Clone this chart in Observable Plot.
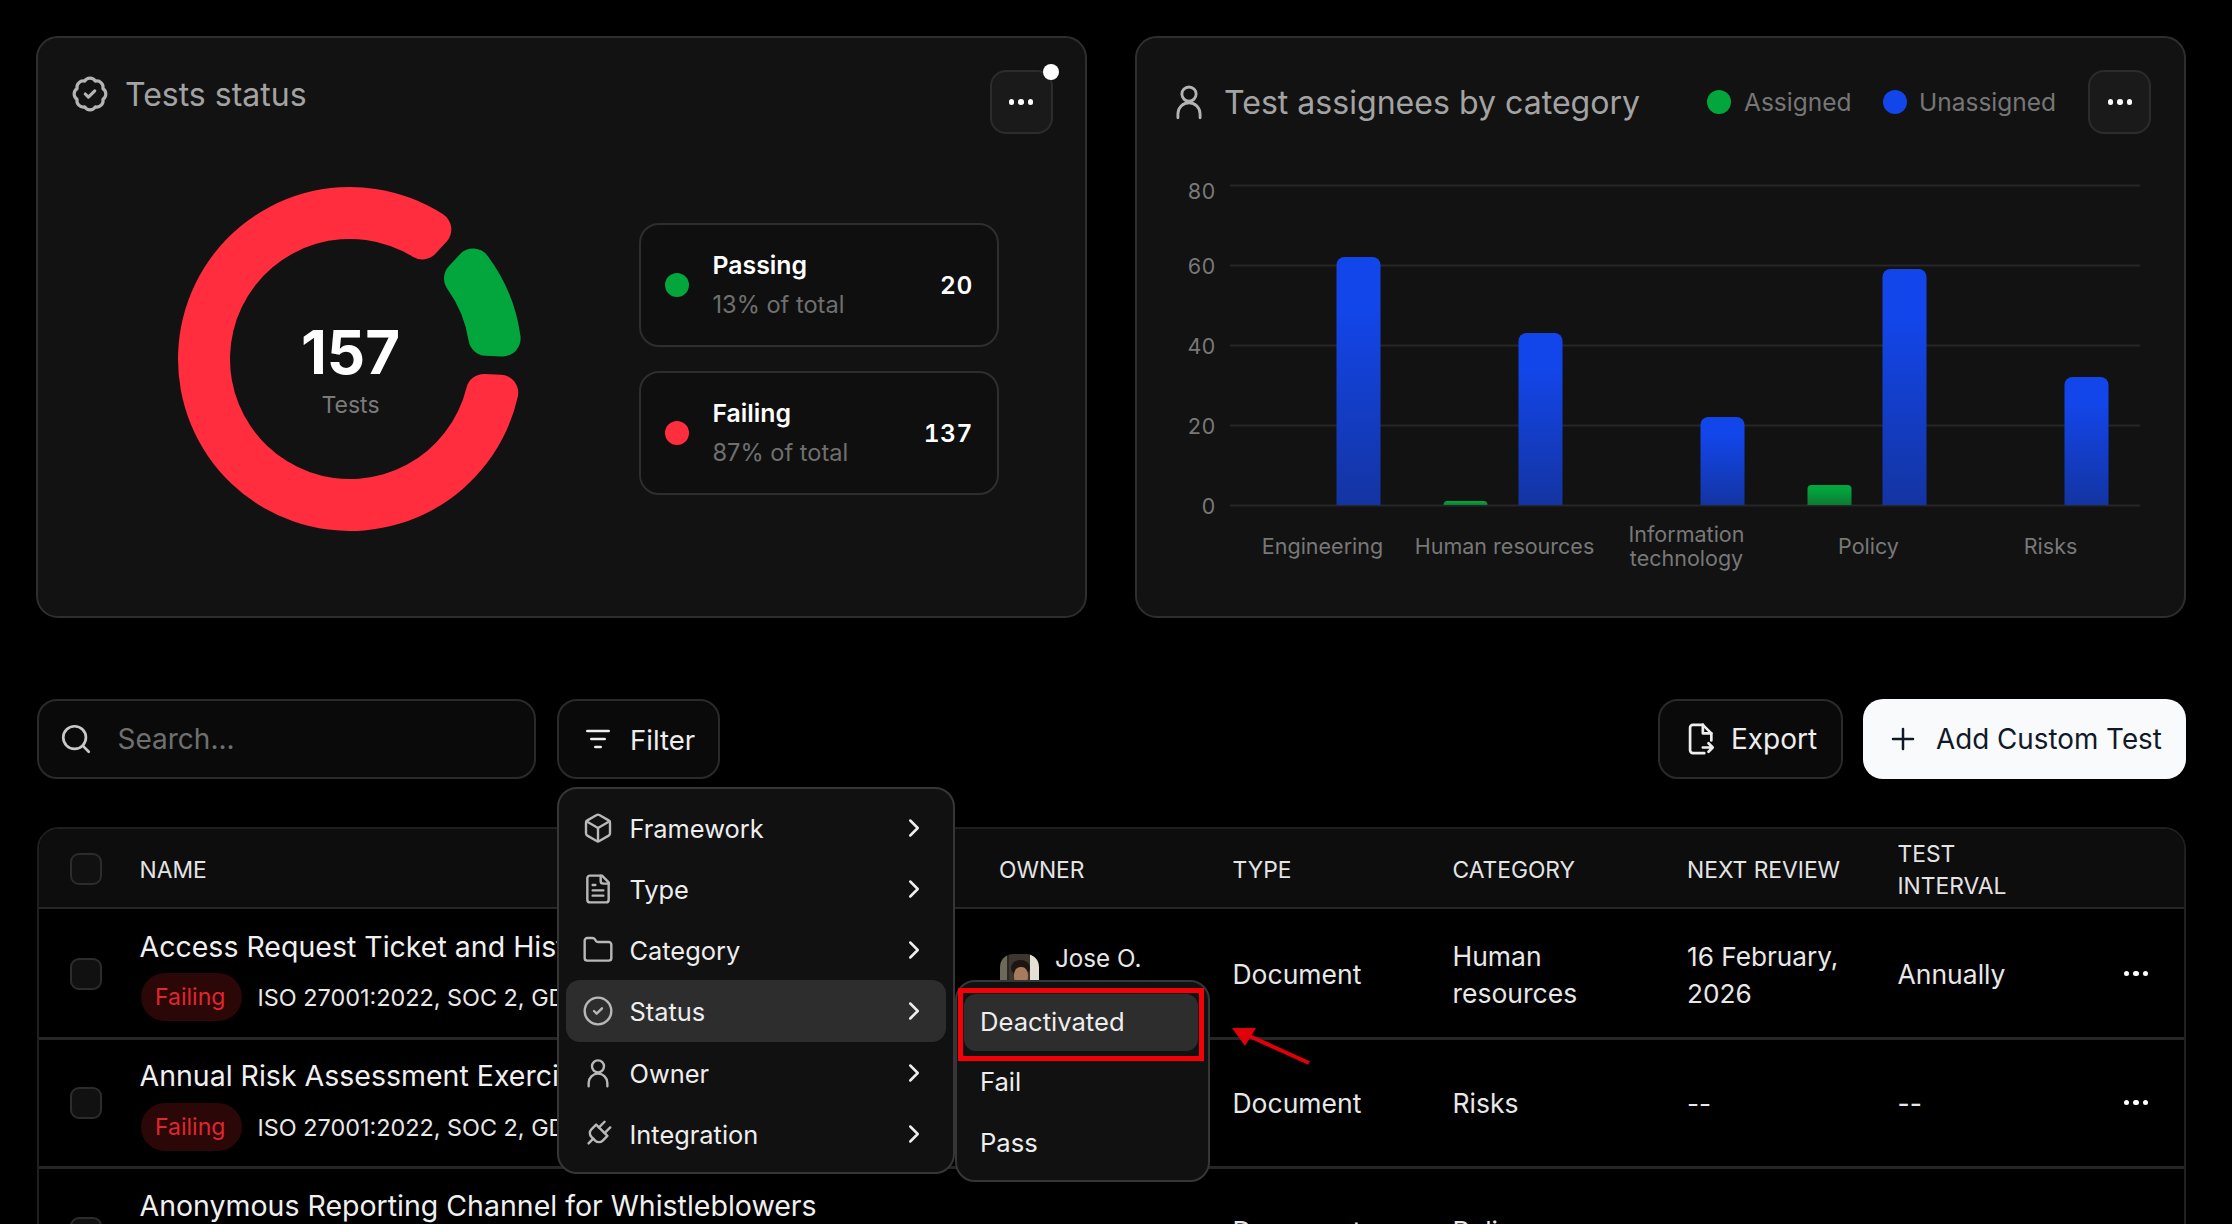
<!DOCTYPE html>
<html><head><meta charset="utf-8">
<script src="https://cdn.jsdelivr.net/npm/d3@7"></script>
<script src="https://cdn.jsdelivr.net/npm/@observablehq/plot@0.6"></script>
<style>
html,body{margin:0;padding:0;background:#000;width:2232px;height:1224px;overflow:hidden;font-family:Inter,"Noto Sans",sans-serif}
#page{position:relative;width:2232px;height:1224px;overflow:hidden}
.box{position:absolute;box-sizing:border-box}
.t{position:absolute;white-space:nowrap;transform:translateY(-50%);line-height:1.2}
.plot{position:absolute;display:block}
svg.ic{position:absolute;transform:translate(-50%,-50%);fill:none;stroke-linecap:round;stroke-linejoin:round}
</style></head>
<body><div id="page"></div>
<script>
// ---- chart data ----
const statusNames = ["Failing", "Passing"];
const statusCounts = [137, 20];
const statusColors = ["#ff2d3d", "#03a63c"];
const statusShares = ["87% of total", "13% of total"];
const totalTests = 157;
const categories = ["Engineering", "Human resources", "Information technology", "Policy", "Risks"];
const categoryLabels = ["Engineering", "Human resources", "Information\ntechnology", "Policy", "Risks"];
const assignedValues = [0, 1, 0, 5, 0];
const unassignedValues = [62, 43, 22, 59, 32];
const seriesNames = ["Assigned", "Unassigned"];
const seriesColors = ["#03a63c", "#1346ea"];
const yTicks = [0, 20, 40, 60, 80];
// ---- page text ----
const menuItems = ["Framework", "Type", "Category", "Status", "Owner", "Integration"];
const subMenuItems = ["Deactivated", "Fail", "Pass"];
const tableHeads = ["NAME", "OWNER", "TYPE", "CATEGORY", "NEXT REVIEW"];
const rowTitles = ["Access Request Ticket and History", "Annual Risk Assessment Exercise", "Anonymous Reporting Channel for Whistleblowers"];
const frameworksText = "ISO 27001:2022, SOC 2, GDPR";
const rowTypes = ["Document", "Document", "Document"];
const rowCategories = [["Human", "resources"], ["Risks"], ["Policy"]];
const rowReviews = [["16 February,", "2026"], ["--"]];
const rowIntervals = ["Annually", "--"];

const page = document.getElementById("page");
let yOff = 0;
function box(x0, y0, x1, y1, css) {
  const d = document.createElement("div"); d.className = "box";
  d.style.cssText = `left:${x0}px;top:${y0 + yOff}px;width:${x1 - x0}px;height:${y1 - y0}px;${css || ""}`;
  page.appendChild(d); return d;
}
function txt(x, cy, s, size, color, weight, extra) {
  const d = document.createElement("div"); d.className = "t"; d.textContent = s;
  d.style.cssText = `left:${x}px;top:${cy + yOff + 1}px;font-size:${size}px;color:${color};font-weight:${weight || 400};${extra || ""}`;
  page.appendChild(d); return d;
}
function icon(cx, cy, size, color, sw, inner, rot) {
  const n = document.createElementNS("http://www.w3.org/2000/svg", "svg");
  n.setAttribute("class", "ic"); n.setAttribute("viewBox", "0 0 24 24");
  n.setAttribute("width", size); n.setAttribute("height", size);
  n.style.cssText = `left:${cx}px;top:${cy + yOff}px;stroke:${color};stroke-width:${sw};` + (rot ? `transform:translate(-50%,-50%) rotate(${rot}deg)` : "");
  n.innerHTML = inner; page.appendChild(n);
}
const I = {
  badge: '<path d="M3.85 8.62a4 4 0 0 1 4.78-4.77 4 4 0 0 1 6.74 0 4 4 0 0 1 4.78 4.78 4 4 0 0 1 0 6.74 4 4 0 0 1-4.77 4.78 4 4 0 0 1-6.75 0 4 4 0 0 1-4.78-4.77 4 4 0 0 1 0-6.76Z"/><path d="m9 12 2 2 4-4"/>',
  user: '<circle cx="12" cy="7" r="4.5"/><path d="M5 22v-2.5a7 7 0 0 1 14 0V22"/>',
  search: '<circle cx="11" cy="11" r="8"/><path d="m21 21-4.3-4.3"/>',
  lines: '<path d="M4 6h16M7 12h10M10 18h4"/>',
  box: '<path d="M21 8a2 2 0 0 0-1-1.73l-7-4a2 2 0 0 0-2 0l-7 4A2 2 0 0 0 3 8v8a2 2 0 0 0 1 1.73l7 4a2 2 0 0 0 2 0l7-4A2 2 0 0 0 21 16Z"/><path d="m3.3 7 8.7 5 8.7-5"/><path d="M12 22V12"/>',
  file: '<path d="M15 2H6a2 2 0 0 0-2 2v16a2 2 0 0 0 2 2h12a2 2 0 0 0 2-2V7Z"/><path d="M14 2v4a2 2 0 0 0 2 2h4"/><path d="M10 9H8M16 13H8M16 17H8"/>',
  folder: '<path d="M20 20a2 2 0 0 0 2-2V8a2 2 0 0 0-2-2h-7.9a2 2 0 0 1-1.69-.9L9.6 3.9A2 2 0 0 0 7.93 3H4a2 2 0 0 0-2 2v13a2 2 0 0 0 2 2Z"/>',
  check: '<circle cx="12" cy="12" r="10"/><path d="m9 12 2 2 4-4"/>',
  plug: '<path d="M12 22v-5M9 8V2M15 8V2"/><path d="M18 8v5a4 4 0 0 1-4 4h-4a4 4 0 0 1-4-4V8Z"/>',
  chev: '<path d="m9 18 6-6-6-6"/>',
  exportf: '<path d="M14 2H7a2 2 0 0 0-2 2v16a2 2 0 0 0 2 2h8"/><path d="M14 2l6 6v5"/><path d="M14 2v6h6"/><path d="M14 18h7m-3-3 3 3-3 3"/>',
  plus: '<path d="M4 12h16M12 4v16"/>'
};
function dots(cx, cy) {
  [-9.5, 0, 9.5].forEach(o => box(cx + o - 2.8, cy - 2.8, cx + o + 2.8, cy + 2.8, "border-radius:50%;background:#fff"));
}
const cardCss = "background:#121212;border:2px solid #2e2e2e;border-radius:22px;";
const btnCss = "background:#1a1a1a;border:2px solid #2c2c2c;border-radius:16px;";
const line = "#262626";

// ---- Left card ----
box(36, 36, 1087, 618, cardCss);
icon(90, 94, 38, "#b4b4b4", 2, I.badge);
txt(125, 94, "Tests status", 32, "#a3a3a3");
box(990, 70, 1053, 134, btnCss);
dots(1021, 102);
box(1043, 64, 1059, 80, "border-radius:50%;background:#fff");

const slices = d3.pie().sort(null).value(d => d.count)
  .startAngle(92.5 * Math.PI / 180).endAngle(452.5 * Math.PI / 180).padAngle(5 * Math.PI / 180)(
    statusNames.map((status, i) => ({status, count: statusCounts[i]})));
const ring = d3.arc().innerRadius(120).outerRadius(172).cornerRadius(18);
const donut = Plot.plot({
  width: 400, height: 400, margin: 0, style: {background: "transparent"},
  x: {domain: [-200, 200], axis: null}, y: {domain: [-200, 200], axis: null},
  color: {domain: statusNames, range: statusColors},
  marks: [
    Plot.dot(slices, {
      x: () => 0, y: () => 0, fill: d => d.data.status, r: 1,
      render(index, scales, values, dims, ctx) {
        const g = d3.create("svg:g");
        for (const i of index) {
          g.append("path").attr("d", ring(slices[i]))
            .attr("transform", `translate(${scales.x(0)},${scales.y(0)})`)
            .attr("fill", scales.color(slices[i].data.status));
        }
        return g.node();
      }
    }),
    Plot.text([totalTests], {frameAnchor: "middle", dy: -5, text: d => String(d), fill: "#fff", fontSize: 60, fontWeight: 700, fontFamily: "Inter", letterSpacing: "-6px"}),
    Plot.text(["Tests"], {frameAnchor: "middle", dy: 46, fill: "#7a7a7a", fontSize: 23, fontFamily: "Inter"})
  ]
});
donut.classList.add("plot"); donut.style.left = "150px"; donut.style.top = "159px";
donut.style.background = "transparent";
page.appendChild(donut);

// legend cards
[1, 0].forEach((s, k) => {
  const y0 = k === 0 ? 223 : 371, cy = y0 + 61.5;
  box(639, y0, 998.5, y0 + 124, "border:2px solid #2e2e2e;border-radius:20px;background:#0f0f0f");
  box(665, cy - 12, 689, cy + 12, `border-radius:50%;background:${statusColors[s]}`);
  txt(712.5, cy - 20, statusNames[s], 24.8, "#fff", 600);
  txt(712.5, cy + 19.5, statusShares[s], 23.6, "#6f6f6f");
  const v = txt(0, cy, String(statusCounts[s]), 24.5, "#fff", 600, "font-feature-settings:'tnum';letter-spacing:.6px;");
  v.style.left = "auto"; v.style.right = (2232 - 973) + "px";
});

// ---- Right card ----
box(1135, 36, 2186, 618, cardCss);
icon(1189, 102, 38, "#b4b4b4", 1.8, I.user);
txt(1224, 102, "Test assignees by category", 32.1, "#a3a3a3");
box(1707, 90, 1731, 114, `border-radius:50%;background:${seriesColors[0]}`);
txt(1744, 102, seriesNames[0], 24.5, "#767676");
box(1883, 90, 1907, 114, `border-radius:50%;background:${seriesColors[1]}`);
txt(1919, 102, seriesNames[1], 24.5, "#767676");
box(2088, 70, 2151, 134, btnCss);
dots(2120, 102);

const rows = categories.flatMap((category, i) => [
  {category, series: seriesNames[0], value: assignedValues[i]},
  {category, series: seriesNames[1], value: unassignedValues[i]}
]).filter(d => d.value > 0);
const axisStyle = {tickSize: 0, tickPadding: 15, label: null, fontSize: 21.5, fill: "#787878", fontFamily: "Inter"};
const bars = Plot.plot({
  width: 1050, height: 440, marginLeft: 91.5, marginRight: 44, marginTop: 35, marginBottom: 85,
  style: {background: "transparent", overflow: "visible"},
  fx: {domain: categories, axis: null, padding: 0},
  x: {domain: seriesNames, axis: null, paddingInner: 0.42, paddingOuter: 0.41},
  y: {domain: [0, 80], axis: null},
  marks: [
    () => {
      const defs = d3.create("svg:defs");
      [["gradBlue", "#1346ea", "#1334a2"], ["gradGreen", "#03a63c", "#0c7a34"]].forEach(([id, a, b]) => {
        const g = defs.append("linearGradient").attr("id", id).attr("x1", 0).attr("x2", 0).attr("y1", 0).attr("y2", 1);
        g.append("stop").attr("offset", "20%").attr("stop-color", a);
        g.append("stop").attr("offset", "100%").attr("stop-color", b);
      });
      return defs.node();
    },
    Plot.ruleY(yTicks, {stroke: "#262626", strokeWidth: 2}),
    Plot.axisY(yTicks.slice(0, 4), {...axisStyle, dy: 1.5}),
    Plot.axisY(yTicks.slice(4), {...axisStyle, dy: 7}),
    Plot.barY(rows.filter(d => d.series === seriesNames[0]), {fx: "category", x: "series", y: "value", fill: "url(#gradGreen)", ry1: 4}),
    Plot.barY(rows.filter(d => d.series === seriesNames[1]), {fx: "category", x: "series", y: "value", fill: "url(#gradBlue)", ry1: 8}),
    Plot.text(categories, {fx: d => d, text: (d, i) => categoryLabels[i], frameAnchor: "bottom", lineAnchor: "middle", dx: 1, dy: 41, fontSize: 21.5, fill: "#787878", fontFamily: "Inter", lineHeight: 1.11})
  ]
});
bars.classList.add("plot"); bars.style.left = "1136px"; bars.style.top = "150px";
bars.style.background = "transparent";
page.appendChild(bars);

// ---- Toolbar ----
yOff = 0.7;
box(36.5, 698, 535.5, 778, "border:2px solid #2a2a2a;border-radius:20px;background:#0a0a0a");
icon(76, 738, 34, "#c8c8c8", 1.9, I.search);
txt(117.5, 738, "Search...", 28, "#6f6f6f");
box(556.5, 698, 719.5, 778, "border:2px solid #2a2a2a;border-radius:20px;background:#0a0a0a");
icon(598, 738, 32, "#eee", 2, I.lines);
txt(630, 738, "Filter", 27.5, "#eee");
box(1657.5, 698, 1842.5, 778, "border:2px solid #2a2a2a;border-radius:20px;background:#0a0a0a");
icon(1700, 738, 34, "#eee", 1.9, I.exportf);
txt(1731, 738, "Export", 28, "#eee");
box(1863, 698, 2186, 778, "border-radius:20px;background:#f8fafc");
icon(1902.5, 738, 30, "#111827", 2, I.plus);
txt(1936, 738, "Add Custom Test", 27.8, "#111827");

// ---- Table ----
box(36.5, 826, 2186, 1300, "border:2px solid #1f1f1f;border-radius:22px 22px 0 0;background:#000");
box(38.5, 828, 2184, 908, "background:#0d0d0d;border-radius:20px 20px 0 0;border-bottom:2px solid #262626");
box(38.5, 1036, 2184, 1039, `background:${line}`);
box(38.5, 1165, 2184, 1168, `background:${line}`);
const cb = y => box(70, y - 16, 102, y + 16, "border-radius:9px;border:2px solid #2c2c2c;background:#111");
cb(868); cb(973); cb(1102); cb(1232);
const headX = [139.5, 999, 1232.5, 1452.5, 1687];
tableHeads.forEach((h, i) => txt(headX[i], 868, h, 22.8, "#e4e4e4"));
txt(1897.5, 852, "TEST", 22.8, "#e4e4e4"); txt(1897.5, 884, "INTERVAL", 22.8, "#e4e4e4");
const titleY = [945.5, 1074.5, 1204.5], midY = [973, 1102, 1230], pillY = [996.5, 1126];
rowTitles.forEach((s, i) => {
  txt(139.5, titleY[i], s, 28.5, "#f0f0f0");
  txt(1232.5, midY[i], rowTypes[i], 26.5, "#e8e8e8");
  const cats = rowCategories[i];
  if (cats.length === 2) { txt(1452.5, 955, cats[0], 26.5, "#e8e8e8"); txt(1452.5, 992.5, cats[1], 26.5, "#e8e8e8"); }
  else txt(1452.5, midY[i], cats[0], 26.5, "#e8e8e8");
});
pillY.forEach((y, i) => {
  box(141, y - 24, 242, y + 24, "border-radius:24px;background:#2b0707");
  txt(155, y, "Failing", 23, "#e0262e");
  txt(257.5, y, frameworksText, 23.4, "#e8e8e8");
  const rev = rowReviews[i];
  if (rev.length === 2) { txt(1687, 955, rev[0], 26.2, "#e8e8e8"); txt(1687, 992.5, rev[1], 26.2, "#e8e8e8"); }
  else txt(1687, midY[i], rev[0], 26.2, "#e8e8e8");
  txt(1897.5, midY[i], rowIntervals[i], 26.5, "#e8e8e8");
  dots(2136, midY[i]);
});
// owner avatar (a small photo in the reference)
const av = box(1000, 953, 1039, 992, "border-radius:13px;overflow:hidden;background:linear-gradient(90deg,#6b6a5a 0 18%,#2b2622 18% 22%,#3c3630 22% 78%,#e6e0d4 78% 100%)");
av.innerHTML = '<div style="position:absolute;left:11px;top:6px;width:19px;height:16px;border-radius:50%;background:#1c1512"></div><div style="position:absolute;left:13.5px;top:13px;width:14px;height:18px;border-radius:45%;background:#a87a5e"></div>';
txt(1055, 957, "Jose O.", 24.2, "#e8e8e8");

// ---- Filter menu ----
const menuCss = "background:#111;border:2px solid #363636;border-radius:20px;";
box(556.5, 786, 955, 1173, menuCss);
box(566, 979, 946, 1041, "background:#2d2d2d;border-radius:14px");
const menuIcons = [I.box, I.file, I.folder, I.check, I.user, I.plug];
const menuY = [827, 888, 949, 1010, 1072, 1133.5];
menuItems.forEach((m, i) => {
  icon(598, menuY[i], 32, "#b8b8b8", 1.8, menuIcons[i], m === "Integration" ? 45 : 0);
  txt(629.5, menuY[i], m, 25.4, "#eee");
  icon(914, menuY[i], 30, "#eee", 2, I.chev);
});
box(955, 979, 1209.5, 1181, menuCss);
box(964, 993, 1198, 1050, "background:#2d2d2d;border-radius:12px");
box(958, 987, 1204, 1060, "border:5px solid #f40009");
const subY = [1020, 1080.5, 1141.5];
subMenuItems.forEach((m, i) => txt(980, subY[i], m, 25.6, "#eee"));

// annotation arrow
const arrow = document.createElementNS("http://www.w3.org/2000/svg", "svg");
arrow.setAttribute("width", 2232); arrow.setAttribute("height", 1224);
arrow.style.cssText = "position:absolute;left:0;top:0;pointer-events:none";
arrow.innerHTML = '<line x1="1309" y1="1063" x2="1245" y2="1034" stroke="#e0000a" stroke-width="4"/><polygon points="1232,1028 1256,1028 1245,1046" fill="#e0000a"/>';
page.appendChild(arrow);
</script>
</body></html>
